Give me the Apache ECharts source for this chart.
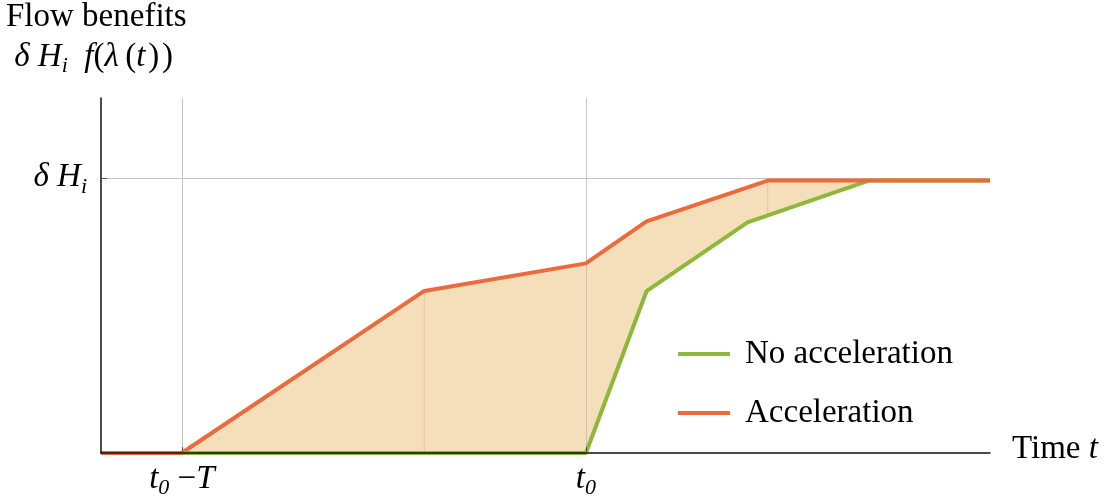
<!DOCTYPE html>
<html><head><meta charset="utf-8">
<script src="https://cdn.jsdelivr.net/npm/echarts@6/dist/echarts.min.js"></script>
<style>html,body{margin:0;padding:0;background:#fff}#c{width:1108px;height:496px}</style>
</head><body><div id="c"></div>
<script>
// ---- data ----
const accX = [-1, 0, 3, 5, 5.75, 7.25, 10];
const accY = [0, 0, 0.589, 0.689, 0.842, 0.99, 0.99];
const noAccX = [-1, 5, 5.75, 7.0, 8.5, 10];
const noAccY = [0, 0, 0.588, 0.838, 0.99, 0.99];
const xTickValues = [0, 5];
const xTickLabels = ['{i|t}{s|0}{r| }{r|−}{i|T}', '{i|t}{s|0}'];
const yTickValues = [1];
const yTickLabels = ['{i|δ H}{s|i}'];
const seamX = [3, 7.25];
const seriesNames = ['No acceleration', 'Acceleration'];

const FONT = 'Liberation Serif';
const FS = 33;
const rich = {
  r: { fontFamily: FONT, fontSize: FS, color: '#000', lineHeight: 40 },
  i: { fontFamily: FONT, fontStyle: 'italic', fontSize: FS, color: '#000', lineHeight: 40 },
  s: { fontFamily: FONT, fontStyle: 'italic', fontSize: 22, color: '#000', lineHeight: 23, verticalAlign: 'bottom' }
};
const GREEN = '#8DB83A', ORANGE = '#EC6A3C', FILL = '#F5DFBB';

const chart = echarts.init(document.getElementById('c'), null, { renderer: 'canvas' });
const option = {
  animation: false,
  backgroundColor: '#fff',
  title: {
    left: 6, top: -3, padding: 0,
    text: '{r|Flow benefits}\n{r| }{i|δ H}{s|i}{r|  }{i|f}{r|(}{i|λ}{r|\u2009(}{i|t}{r|\u200a)\u200a)}',
    textStyle: { fontFamily: FONT, fontSize: FS, fontWeight: 'normal', color: '#000', lineHeight: 41, rich: rich }
  },
  legend: {
    orient: 'vertical', left: 673, top: 329, icon: 'rect',
    itemWidth: 52, itemHeight: 4, itemGap: 19,
    data: seriesNames,
    textStyle: { fontFamily: FONT, fontSize: FS, color: '#000', lineHeight: 40, padding: [0, 0, 0, 10] }
  },
  grid: { left: 101, right: 118, top: 98, bottom: 43, containLabel: false, outerBoundsMode: 'none' },
  xAxis: {
    type: 'value', min: -1, max: 10, z: 4,
    axisLine: { onZero: false, lineStyle: { color: '#111', width: 1.5 } },
    splitLine: { show: false },
    axisTick: { show: true, inside: true, length: 6, customValues: xTickValues, lineStyle: { color: '#555' } },
    axisLabel: {
      customValues: xTickValues, margin: 6,
      formatter: function (v) { const k = xTickValues.indexOf(v); return k >= 0 ? xTickLabels[k] : ''; },
      rich: rich
    },
    name: '{r|Time }{i|t}', nameLocation: 'end', nameGap: 22,
    nameTextStyle: { rich: rich, align: 'left', verticalAlign: 'middle', padding: [0, 0, 8, 0] }
  },
  yAxis: {
    type: 'value', min: 0, max: 1.29, z: 4,
    axisLine: { show: true, onZero: false, lineStyle: { color: '#111', width: 1.5 } },
    splitLine: { show: false },
    axisTick: { show: true, inside: true, length: 6, customValues: yTickValues, lineStyle: { color: '#555' } },
    axisLabel: {
      customValues: yTickValues, margin: 14,
      formatter: function (v) { const k = yTickValues.indexOf(v); return k >= 0 ? yTickLabels[k] : ''; },
      rich: rich
    }
  },
  series: [
    {
      type: 'custom', name: 'band', z: 1, silent: true, data: [[0, 0]],
      renderItem: function (params, api) {
        const top = accX.map((x, i) => api.coord([x, accY[i]]));
        const bot = noAccX.map((x, i) => api.coord([x, noAccY[i]])).reverse();
        const children = [{ type: 'polygon', shape: { points: top.concat(bot) }, style: { fill: FILL } }];
        const gpts = noAccX.map((x, i) => api.coord([x, noAccY[i]]));
        seamX.forEach(function (sx) {
          const k = accX.indexOf(sx);
          const p = api.coord([sx, accY[k]]);
          let yb = gpts[0][1];
          for (let j = 0; j < gpts.length - 1; j++) {
            if (p[0] >= gpts[j][0] && p[0] <= gpts[j + 1][0]) {
              const t = (p[0] - gpts[j][0]) / (gpts[j + 1][0] - gpts[j][0]);
              yb = gpts[j][1] + t * (gpts[j + 1][1] - gpts[j][1]);
            }
          }
          children.push({ type: 'line', shape: { x1: p[0], y1: p[1], x2: p[0], y2: yb }, style: { stroke: 'rgba(225,175,100,0.55)', lineWidth: 1 } });
        });
        return { type: 'group', children: children };
      }
    },
    {
      type: 'line', name: 'grid', data: [], z: 1.5, silent: true,
      markLine: {
        z: 1.5, silent: true, symbol: 'none', label: { show: false },
        lineStyle: { color: '#c4c4c4', width: 1, type: 'solid' },
        emphasis: { disabled: true },
        data: xTickValues.map(v => ({ xAxis: v })).concat(yTickValues.map(v => ({ yAxis: v })))
      }
    },
    {
      type: 'line', name: seriesNames[0], z: 2, symbol: 'none', showSymbol: false,
      data: noAccX.map((x, i) => [x, noAccY[i]]),
      lineStyle: { color: GREEN, width: 4 }, itemStyle: { color: GREEN }
    },
    {
      type: 'line', name: seriesNames[1], z: 3, symbol: 'none', showSymbol: false,
      data: accX.map((x, i) => [x, accY[i]]),
      lineStyle: { color: ORANGE, width: 4 }, itemStyle: { color: ORANGE }
    }
  ]
};
chart.setOption(option);
</script>
</body></html>
